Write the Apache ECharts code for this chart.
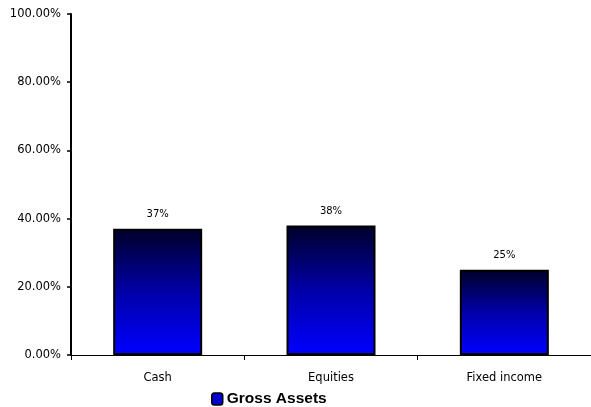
<!DOCTYPE html>
<html><head><meta charset="utf-8">
<script src="https://cdn.jsdelivr.net/npm/echarts@6/dist/echarts.min.js"></script>
<style>html,body{margin:0;padding:0;background:#fff}#c{width:591px;height:407px}</style>
</head><body><div id="c"></div>
<script>
var categories = ['Cash', 'Equities', 'Fixed income'];
var grossAssets = [37, 38, 25];
var yTicks = [0, 20, 40, 60, 80, 100];
var seriesName = 'Gross Assets';

var chart = echarts.init(document.getElementById('c'));
chart.setOption({
  animation: false,
  backgroundColor: '#fff',
  grid: {left: 71, right: -2, top: 14, bottom: 52, containLabel: false},
  legend: {
    data: [seriesName], left: 206, top: 386, itemWidth: 11, itemHeight: 12, itemGap: 5,
    textStyle: {fontFamily: 'Liberation Sans, Arial', fontWeight: 'bold', fontSize: 15.5, color: '#000', padding: [0,0,0,-1]},
    itemStyle: {color: '#0000d0', borderColor: '#000', borderWidth: 1.5}
  },
  xAxis: {
    type: 'category', data: categories,
    axisLine: {lineStyle: {color: '#000', width: 1}},
    axisTick: {show: true, length: 5, lineStyle: {color: '#000'}},
    axisLabel: {fontFamily: 'DejaVu Sans, Tahoma', fontSize: 11.5, color: '#000', margin: 17}
  },
  yAxis: {
    type: 'value', min: yTicks[0], max: yTicks[yTicks.length-1], interval: 20,
    splitLine: {show: false},
    axisLine: {show: true, lineStyle: {color: '#000', width: 2}},
    axisTick: {show: true, length: 4, lineStyle: {color: '#000', width: 1.5}},
    axisLabel: {fontFamily: 'DejaVu Sans, Tahoma', fontSize: 11.5, color: '#000', margin: 10,
      formatter: function(v){ return v.toFixed(2) + '%'; }}
  },
  series: [{
    name: seriesName, type: 'bar', data: grossAssets, barWidth: 89,
    itemStyle: {
      borderColor: '#000', borderWidth: 2,
      color: new echarts.graphic.LinearGradient(0, 0, 0, 1, [
        {offset: 0, color: '#000028'},
        {offset: 0.5, color: '#0000a8'},
        {offset: 1, color: '#0000ff'}
      ])
    },
    label: {show: true, position: 'top', distance: 9, fontFamily: 'DejaVu Sans, Tahoma', fontSize: 10, color: '#000',
      formatter: function(p){ return p.value + '%'; }}
  }]
});
</script></body></html>
